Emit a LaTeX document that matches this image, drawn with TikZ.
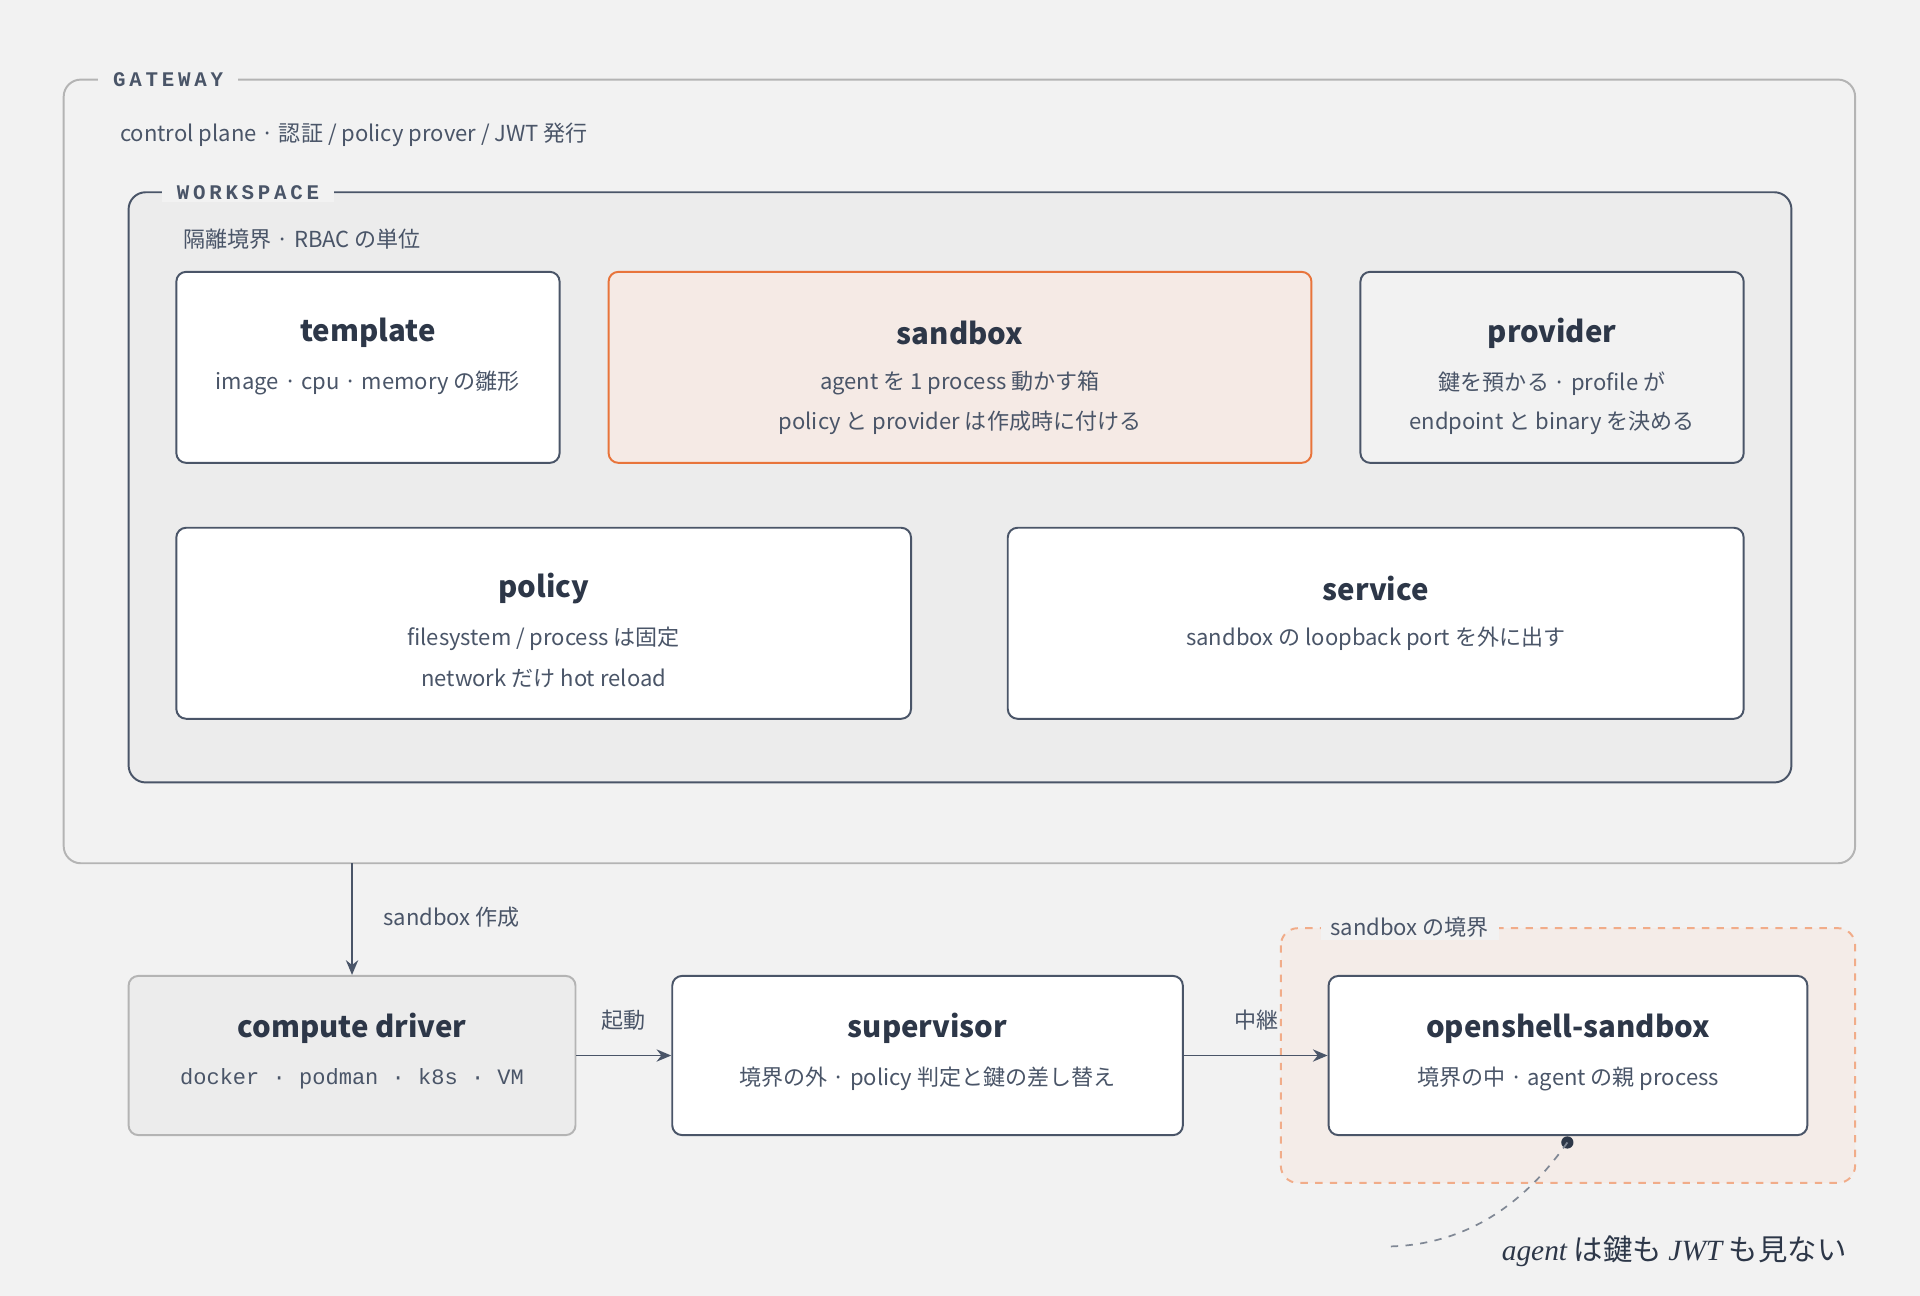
\documentclass[tikz,border=0pt]{standalone}
\usepackage{fontspec}
\setmainfont{Noto Sans CJK JP}
\newfontfamily\monof{Liberation Mono}
\newfontfamily\lblf[LetterSpace=18]{Liberation Mono}
\newfontfamily\serifit{Liberation Serif}
\usetikzlibrary{arrows.meta}
\definecolor{bg}{HTML}{F2F2F2}
\definecolor{ink}{HTML}{2D3748}
\definecolor{sub}{HTML}{4A5568}
\definecolor{slate}{HTML}{4A5568}
\definecolor{orng}{HTML}{E8743B}
\definecolor{peach}{HTML}{F5EAE5}
\definecolor{grayb}{HTML}{B4B4B4}
\tikzset{
  box/.style={draw=slate, line width=0.8pt, rounded corners=4pt, fill=white},
  ttl/.style={font=\fontsize{12}{14}\selectfont\bfseries, text=ink},
  txt/.style={font=\fontsize{9}{11}\selectfont, text=sub},
  lbl/.style={font=\fontsize{8.5}{10}\selectfont\lblf\bfseries, text=sub, fill=bg, inner xsep=6pt, inner ysep=1pt, anchor=west},
  arr/.style={draw=slate, line width=0.8pt, -{Stealth[length=6pt,width=5pt]}},
}
\begin{document}
\begin{tikzpicture}[x=0.5pt,y=0.5pt]
\useasboundingbox[fill=bg] (0,0) rectangle (1568,-1058);
% gateway
\draw[grayb, line width=0.8pt, rounded corners=7pt, fill=bg] (52,-65) rectangle (1515,-705);
\node[lbl] (gwl) at (80,-65) {GATEWAY};
\node[txt, anchor=west] (gws) at (91,-110) {control plane · 認証 / policy prover / JWT 発行};
% workspace
\draw[slate, line width=0.8pt, rounded corners=7pt, fill=black!7.5] (105,-157) rectangle (1463,-639);
\node[lbl] (wsl) at (132,-157) {WORKSPACE};
\node[txt, anchor=west] (wss) at (143,-195) {隔離境界 · RBAC の単位};
% boxes
\node[box, minimum width=156.5pt, minimum height=78pt] (tpl) at (300.5,-300) {};
\node[ttl] at (300.5,-272) {template};
\node[txt] at (300.5,-313) {image · cpu · memory の雛形};
\node[box, draw=orng, fill=peach, minimum width=287pt, minimum height=78pt] (sbx) at (784,-300) {};
\node[ttl] at (784,-272) {sandbox};
\node[txt] at (784,-313) {agent を 1 process 動かす箱};
\node[txt] at (784,-345) {policy と provider は作成時に付ける};
\node[box, fill=black!5, minimum width=156.5pt, minimum height=78pt] (prv) at (1267.5,-300) {};
\node[ttl] at (1267.5,-272) {provider};
\node[txt] at (1267.5,-313) {鍵を預かる · profile が};
\node[txt] at (1267.5,-345) {endpoint と binary を決める};
\node[box, minimum width=300pt, minimum height=78pt] (pol) at (444,-509) {};
\node[ttl] at (444,-481) {policy};
\node[txt] at (444,-522) {filesystem / process は固定};
\node[txt] at (444,-554) {network だけ hot reload};
\node[box, minimum width=300.5pt, minimum height=78pt] (svc) at (1123.5,-509) {};
\node[ttl] at (1123.5,-481) {service};
\node[txt] at (1123.5,-522) {sandbox の loopback port を外に出す};
% boundary
\draw[orng!60, line width=0.8pt, dashed, rounded corners=7pt, fill=peach!80!bg] (1046,-758) rectangle (1515,-966);
\node[txt, fill=bg, inner xsep=4pt, inner ysep=1pt, anchor=west] (bl) at (1078,-757) {sandbox の境界};
% lower row
\node[box, draw=grayb, fill=black!7.5, minimum width=182.5pt, minimum height=65pt] (drv) at (287.5,-862) {};
\node[ttl] at (287.5,-840) {compute driver};
\node[txt, font=\fontsize{9}{11}\selectfont\monof] at (287.5,-881) {docker · podman · k8s · VM};
\node[box, minimum width=208.5pt, minimum height=65pt] (sup) at (757.5,-862) {};
\node[ttl] at (757.5,-840) {supervisor};
\node[txt] at (757.5,-881) {境界の外 · policy 判定と鍵の差し替え};
\node[box, minimum width=195.5pt, minimum height=65pt] (osb) at (1280.5,-862) {};
\node[ttl] at (1280.5,-840) {openshell-sandbox};
\node[txt] at (1280.5,-881) {境界の中 · agent の親 process};
% arrows
\coordinate (gwb) at (287.5,-705);
\draw[arr] (gwb) -- (drv.north);
\node[txt, anchor=west] at (306,-749) {sandbox 作成};
\draw[arr] (drv.east) -- (sup.west);
\node[txt] at (509,-833) {起動};
\draw[arr] (sup.east) -- (osb.west);
\node[txt] at (1026,-833) {中継};
% annotation
\coordinate (dot) at (1280,-933);
\coordinate (ce) at (1130,-1018);
\fill[ink] (dot) circle (2.5pt);
\draw[slate!70, line width=0.7pt, dashed] (dot) .. controls (1240,-990) and (1190,-1018) .. (ce);
\node[anchor=east, text=ink, font=\fontsize{12}{14}\selectfont] at (1515,-1022) {{\serifit\itshape agent} {\itshape は鍵も} {\serifit\itshape JWT} {\itshape も見ない}};
\end{tikzpicture}
\end{document}
